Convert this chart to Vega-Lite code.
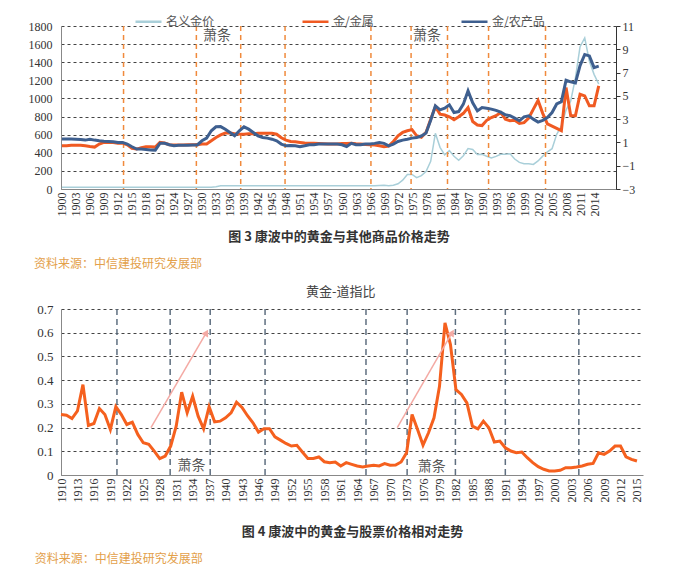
{
  "$schema": "https://vega.github.io/schema/vega-lite/v6.json",
  "padding": {"left": 28, "top": 7, "right": 5, "bottom": 0},
  "columns": 1,
  "align": "none",
  "spacing": 16,
  "config": {
    "view": {"stroke": null},
    "axis": {"labelFont": "Liberation Serif", "labelColor": "#333"}
  },
  "concat": [
    {
      "width": 555,
      "height": 163,
      "data": {"values": [
        {"year":1900,"nominal":20.7,"metal":0.71,"agri":1.30},
        {"year":1901,"nominal":20.7,"metal":0.71,"agri":1.30},
        {"year":1902,"nominal":20.7,"metal":0.75,"agri":1.30},
        {"year":1903,"nominal":20.7,"metal":0.75,"agri":1.28},
        {"year":1904,"nominal":20.7,"metal":0.75,"agri":1.25},
        {"year":1905,"nominal":20.7,"metal":0.71,"agri":1.20},
        {"year":1906,"nominal":20.7,"metal":0.65,"agri":1.28},
        {"year":1907,"nominal":20.7,"metal":0.60,"agri":1.20},
        {"year":1908,"nominal":20.7,"metal":0.86,"agri":1.14},
        {"year":1909,"nominal":20.7,"metal":1.00,"agri":1.10},
        {"year":1910,"nominal":20.7,"metal":1.00,"agri":1.08},
        {"year":1911,"nominal":20.7,"metal":1.00,"agri":1.05},
        {"year":1912,"nominal":20.7,"metal":0.92,"agri":1.00},
        {"year":1913,"nominal":20.7,"metal":0.95,"agri":1.00},
        {"year":1914,"nominal":20.7,"metal":0.80,"agri":0.86},
        {"year":1915,"nominal":20.7,"metal":0.50,"agri":0.63},
        {"year":1916,"nominal":20.7,"metal":0.43,"agri":0.43},
        {"year":1917,"nominal":20.7,"metal":0.55,"agri":0.43},
        {"year":1918,"nominal":20.7,"metal":0.63,"agri":0.40},
        {"year":1919,"nominal":20.7,"metal":0.63,"agri":0.36},
        {"year":1920,"nominal":20.7,"metal":0.60,"agri":0.34},
        {"year":1921,"nominal":20.7,"metal":1.00,"agri":0.92},
        {"year":1922,"nominal":20.7,"metal":0.95,"agri":0.92},
        {"year":1923,"nominal":20.7,"metal":0.80,"agri":0.80},
        {"year":1924,"nominal":20.7,"metal":0.77,"agri":0.71},
        {"year":1925,"nominal":20.7,"metal":0.77,"agri":0.75},
        {"year":1926,"nominal":20.7,"metal":0.77,"agri":0.75},
        {"year":1927,"nominal":20.7,"metal":0.80,"agri":0.75},
        {"year":1928,"nominal":20.7,"metal":0.80,"agri":0.78},
        {"year":1929,"nominal":20.7,"metal":0.80,"agri":0.78},
        {"year":1930,"nominal":20.7,"metal":0.86,"agri":1.14},
        {"year":1931,"nominal":20.7,"metal":0.86,"agri":1.37},
        {"year":1932,"nominal":20.7,"metal":1.14,"agri":2.00},
        {"year":1933,"nominal":26,"metal":1.43,"agri":2.34},
        {"year":1934,"nominal":35,"metal":1.65,"agri":2.36},
        {"year":1935,"nominal":35,"metal":1.80,"agri":2.14},
        {"year":1936,"nominal":35,"metal":1.80,"agri":1.86},
        {"year":1937,"nominal":35,"metal":1.75,"agri":1.57},
        {"year":1938,"nominal":35,"metal":1.72,"agri":2.00},
        {"year":1939,"nominal":35,"metal":1.71,"agri":2.34},
        {"year":1940,"nominal":35,"metal":1.75,"agri":2.14},
        {"year":1941,"nominal":35,"metal":1.75,"agri":1.86},
        {"year":1942,"nominal":35,"metal":1.78,"agri":1.57},
        {"year":1943,"nominal":35,"metal":1.78,"agri":1.43},
        {"year":1944,"nominal":35,"metal":1.78,"agri":1.37},
        {"year":1945,"nominal":35,"metal":1.78,"agri":1.28},
        {"year":1946,"nominal":35,"metal":1.70,"agri":1.14},
        {"year":1947,"nominal":35,"metal":1.40,"agri":0.86},
        {"year":1948,"nominal":35,"metal":1.20,"agri":0.71},
        {"year":1949,"nominal":35,"metal":1.08,"agri":0.73},
        {"year":1950,"nominal":35,"metal":1.05,"agri":0.71},
        {"year":1951,"nominal":35,"metal":1.00,"agri":0.63},
        {"year":1952,"nominal":35,"metal":0.95,"agri":0.71},
        {"year":1953,"nominal":35,"metal":0.92,"agri":0.80},
        {"year":1954,"nominal":35,"metal":0.92,"agri":0.80},
        {"year":1955,"nominal":35,"metal":0.90,"agri":0.86},
        {"year":1956,"nominal":35,"metal":0.88,"agri":0.86},
        {"year":1957,"nominal":35,"metal":0.86,"agri":0.86},
        {"year":1958,"nominal":35,"metal":0.86,"agri":0.86},
        {"year":1959,"nominal":35,"metal":0.86,"agri":0.86},
        {"year":1960,"nominal":35,"metal":0.90,"agri":0.80},
        {"year":1961,"nominal":35,"metal":0.90,"agri":0.65},
        {"year":1962,"nominal":35,"metal":0.92,"agri":0.92},
        {"year":1963,"nominal":35,"metal":0.88,"agri":0.80},
        {"year":1964,"nominal":35,"metal":0.86,"agri":0.80},
        {"year":1965,"nominal":35,"metal":0.82,"agri":0.86},
        {"year":1966,"nominal":35,"metal":0.80,"agri":0.86},
        {"year":1967,"nominal":35,"metal":0.78,"agri":0.92},
        {"year":1968,"nominal":39,"metal":0.72,"agri":1.00},
        {"year":1969,"nominal":41,"metal":0.63,"agri":0.92},
        {"year":1970,"nominal":36,"metal":0.68,"agri":0.71},
        {"year":1971,"nominal":41,"metal":1.08,"agri":0.86},
        {"year":1972,"nominal":58,"metal":1.57,"agri":1.08},
        {"year":1973,"nominal":97,"metal":1.86,"agri":1.20},
        {"year":1974,"nominal":159,"metal":2.00,"agri":1.28},
        {"year":1975,"nominal":161,"metal":2.10,"agri":1.37},
        {"year":1976,"nominal":125,"metal":1.57,"agri":1.43},
        {"year":1977,"nominal":148,"metal":1.45,"agri":1.55},
        {"year":1978,"nominal":193,"metal":1.86,"agri":1.80},
        {"year":1979,"nominal":306,"metal":3.00,"agri":2.90},
        {"year":1980,"nominal":615,"metal":4.06,"agri":4.14},
        {"year":1981,"nominal":460,"metal":3.43,"agri":3.80},
        {"year":1982,"nominal":376,"metal":3.35,"agri":3.94},
        {"year":1983,"nominal":424,"metal":3.20,"agri":4.23},
        {"year":1984,"nominal":361,"metal":2.95,"agri":3.57},
        {"year":1985,"nominal":317,"metal":3.20,"agri":3.65},
        {"year":1986,"nominal":368,"metal":3.50,"agri":4.29},
        {"year":1987,"nominal":447,"metal":4.00,"agri":5.43},
        {"year":1988,"nominal":437,"metal":2.80,"agri":4.40},
        {"year":1989,"nominal":381,"metal":2.50,"agri":3.71},
        {"year":1990,"nominal":383,"metal":2.45,"agri":4.00},
        {"year":1991,"nominal":362,"metal":2.90,"agri":3.94},
        {"year":1992,"nominal":344,"metal":3.14,"agri":3.86},
        {"year":1993,"nominal":360,"metal":3.30,"agri":3.75},
        {"year":1994,"nominal":384,"metal":3.57,"agri":3.60},
        {"year":1995,"nominal":384,"metal":3.00,"agri":3.37},
        {"year":1996,"nominal":388,"metal":2.86,"agri":3.29},
        {"year":1997,"nominal":331,"metal":2.91,"agri":3.09},
        {"year":1998,"nominal":294,"metal":2.63,"agri":2.86},
        {"year":1999,"nominal":279,"metal":2.70,"agri":3.20},
        {"year":2000,"nominal":279,"metal":3.10,"agri":3.29},
        {"year":2001,"nominal":271,"metal":3.86,"agri":3.00},
        {"year":2002,"nominal":310,"metal":4.60,"agri":2.75},
        {"year":2003,"nominal":363,"metal":3.50,"agri":2.90},
        {"year":2004,"nominal":409,"metal":2.60,"agri":3.14},
        {"year":2005,"nominal":445,"metal":2.40,"agri":3.57},
        {"year":2006,"nominal":604,"metal":2.20,"agri":4.30},
        {"year":2007,"nominal":696,"metal":2.00,"agri":4.50},
        {"year":2008,"nominal":872,"metal":5.71,"agri":6.34},
        {"year":2009,"nominal":972,"metal":3.29,"agri":6.20},
        {"year":2010,"nominal":1225,"metal":3.29,"agri":6.10},
        {"year":2011,"nominal":1572,"metal":5.14,"agri":7.60},
        {"year":2012,"nominal":1669,"metal":5.00,"agri":8.55},
        {"year":2013,"nominal":1411,"metal":4.14,"agri":8.43},
        {"year":2014,"nominal":1266,"metal":4.14,"agri":7.43},
        {"year":2015,"nominal":1160,"metal":5.86,"agri":7.55}
      ]},
      "title": {"text": "资料来源：中信建投研究发展部", "orient": "bottom", "anchor": "start", "offset": 16, "dx": 6, "font": "Noto Sans CJK SC", "fontSize": 12, "fontWeight": "normal", "color": "#e3a04a"},
      "layer": [
        {
          "layer": [
            {
              "mark": {"type": "line", "strokeWidth": 1.5},
              "encoding": {
                "x": {"field": "year", "type": "quantitative",
                  "scale": {"domain": [1899.8, 2018.7], "nice": false, "zero": false},
                  "axis": {"values": [1900,1903,1906,1909,1912,1915,1918,1921,1924,1927,1930,1933,1936,1939,1942,1945,1948,1951,1954,1957,1960,1963,1966,1969,1972,1975,1978,1981,1984,1987,1990,1993,1996,1999,2002,2005,2008,2011,2014],
                    "tickCount": 500, "format": "d", "labelAngle": -90, "labelFontSize": 12, "labelPadding": 3, "labelOverlap": false, "grid": false, "ticks": false, "domainColor": "#888",
                    "title": "图 3   康波中的黄金与其他商品价格走势", "titleFont": "Noto Sans CJK SC", "titleFontSize": 13, "titleFontWeight": "bold", "titleColor": "#333", "titlePadding": 14}},
                "y": {"field": "nominal", "type": "quantitative",
                  "scale": {"domain": [0, 1800], "nice": false},
                  "axis": {"values": [0,200,400,600,800,1000,1200,1400,1600,1800], "tickCount": 500, "format": "d", "labelOverlap": false, "grid": true, "gridDash": [3,3], "gridColor": "#444", "ticks": false, "domainColor": "#888", "labelFontSize": 12, "labelPadding": 9, "title": null}},
                "color": {"datum": "名义金价", "type": "nominal",
                  "scale": {"domain": ["名义金价", "金/金属", "金/农产品"], "range": ["#a9cfd9", "#f05a22", "#3e5f8f"]},
                  "legend": {"orient": "none", "legendX": 73, "legendY": -19, "direction": "horizontal", "columnPadding": 82, "symbolType": "stroke", "symbolSize": 676, "symbolStrokeWidth": 2.5, "labelFont": "Noto Sans CJK SC", "labelFontSize": 12, "labelColor": "#555", "labelOffset": 3, "title": null}}
              }
            },
            {
              "data": {"values": [{"year":1913.2},{"year":1928.8},{"year":1938.3},{"year":1947.8},{"year":1966.2},{"year":1974.8},{"year":1982.6},{"year":1991.4},{"year":2003.6}]},
              "mark": {"type": "rule", "color": "#f08a3c", "strokeDash": [5,4], "strokeWidth": 1.5},
              "encoding": {"x": {"field": "year", "type": "quantitative"}}
            },
            {
              "data": {"values": [{"year":1933.2,"nominal":1690,"t":"萧条"},{"year":1978.2,"nominal":1690,"t":"萧条"}]},
              "mark": {"type": "text", "font": "Noto Sans CJK SC", "fontSize": 14, "color": "#555"},
              "encoding": {"x": {"field": "year", "type": "quantitative"}, "y": {"field": "nominal", "type": "quantitative"}, "text": {"field": "t"}}
            }
          ]
        },
        {
          "layer": [
            {
              "mark": {"type": "line", "strokeWidth": 3},
              "encoding": {
                "x": {"field": "year", "type": "quantitative"},
                "y": {"field": "metal", "type": "quantitative",
                  "scale": {"domain": [-3, 11], "nice": false, "zero": false},
                  "axis": {"orient": "right", "values": [-3,-1,1,3,5,7,9,11], "tickCount": 500, "format": "d", "labelOverlap": false, "grid": false, "ticks": true, "tickSize": 4, "tickColor": "#333", "domainColor": "#333", "labelFontSize": 12, "labelPadding": 2, "title": null}},
                "color": {"datum": "金/金属", "type": "nominal"}
              }
            },
            {
              "mark": {"type": "line", "strokeWidth": 3},
              "encoding": {
                "x": {"field": "year", "type": "quantitative"},
                "y": {"field": "agri", "type": "quantitative"},
                "color": {"datum": "金/农产品", "type": "nominal"}
              }
            }
          ]
        }
      ],
      "resolve": {"scale": {"y": "independent"}}
    },
    {
      "width": 582,
      "height": 166,
      "title": {"text": "资料来源：中信建投研究发展部", "orient": "bottom", "anchor": "start", "offset": 16, "dx": -2, "font": "Noto Sans CJK SC", "fontSize": 12, "fontWeight": "normal", "color": "#e3a04a"},
      "layer": [
        {
          "data": {"values": [{"year":1920.2},{"year":1929.9},{"year":1937.2},{"year":1947.2},{"year":1965.6},{"year":1973.1},{"year":1981.9},{"year":1991.0},{"year":2004.4}]},
          "mark": {"type": "rule", "color": "#5f6f80", "strokeDash": [6,4], "strokeWidth": 1.5},
          "encoding": {"x": {"field": "year", "type": "quantitative"}}
        },
        {
          "data": {"values": [
            {"year":1910,"v":0.255},{"year":1911,"v":0.252},{"year":1912,"v":0.238},{"year":1913,"v":0.27},{"year":1914,"v":0.381},
            {"year":1915,"v":0.209},{"year":1916,"v":0.217},{"year":1917,"v":0.28},{"year":1918,"v":0.255},{"year":1919,"v":0.192},
            {"year":1920,"v":0.288},{"year":1921,"v":0.255},{"year":1922,"v":0.213},{"year":1923,"v":0.223},{"year":1924,"v":0.171},
            {"year":1925,"v":0.136},{"year":1926,"v":0.129},{"year":1927,"v":0.101},{"year":1928,"v":0.069},{"year":1929,"v":0.08},
            {"year":1930,"v":0.122},{"year":1931,"v":0.206},{"year":1932,"v":0.349},{"year":1933,"v":0.262},{"year":1934,"v":0.332},
            {"year":1935,"v":0.248},{"year":1936,"v":0.195},{"year":1937,"v":0.288},{"year":1938,"v":0.224},{"year":1939,"v":0.227},
            {"year":1940,"v":0.241},{"year":1941,"v":0.262},{"year":1942,"v":0.307},{"year":1943,"v":0.285},{"year":1944,"v":0.25},
            {"year":1945,"v":0.22},{"year":1946,"v":0.181},{"year":1947,"v":0.195},{"year":1948,"v":0.195},{"year":1949,"v":0.161},
            {"year":1950,"v":0.147},{"year":1951,"v":0.133},{"year":1952,"v":0.122},{"year":1953,"v":0.125},{"year":1954,"v":0.097},
            {"year":1955,"v":0.07},{"year":1956,"v":0.07},{"year":1957,"v":0.076},{"year":1958,"v":0.056},{"year":1959,"v":0.052},
            {"year":1960,"v":0.055},{"year":1961,"v":0.038},{"year":1962,"v":0.052},{"year":1963,"v":0.045},{"year":1964,"v":0.038},
            {"year":1965,"v":0.034},{"year":1966,"v":0.038},{"year":1967,"v":0.041},{"year":1968,"v":0.038},{"year":1969,"v":0.048},
            {"year":1970,"v":0.041},{"year":1971,"v":0.042},{"year":1972,"v":0.055},{"year":1973,"v":0.094},{"year":1974,"v":0.255},
            {"year":1975,"v":0.192},{"year":1976,"v":0.126},{"year":1977,"v":0.178},{"year":1978,"v":0.241},{"year":1979,"v":0.374},
            {"year":1980,"v":0.641},{"year":1981,"v":0.55},{"year":1982,"v":0.36},{"year":1983,"v":0.34},{"year":1984,"v":0.304},
            {"year":1985,"v":0.206},{"year":1986,"v":0.195},{"year":1987,"v":0.227},{"year":1988,"v":0.199},{"year":1989,"v":0.139},
            {"year":1990,"v":0.143},{"year":1991,"v":0.115},{"year":1992,"v":0.101},{"year":1993,"v":0.094},{"year":1994,"v":0.097},
            {"year":1995,"v":0.073},{"year":1996,"v":0.052},{"year":1997,"v":0.035},{"year":1998,"v":0.024},{"year":1999,"v":0.017},
            {"year":2000,"v":0.017},{"year":2001,"v":0.02},{"year":2002,"v":0.031},{"year":2003,"v":0.031},{"year":2004,"v":0.034},
            {"year":2005,"v":0.038},{"year":2006,"v":0.045},{"year":2007,"v":0.049},{"year":2008,"v":0.094},{"year":2009,"v":0.087},
            {"year":2010,"v":0.101},{"year":2011,"v":0.122},{"year":2012,"v":0.122},{"year":2013,"v":0.077},{"year":2014,"v":0.066},
            {"year":2015,"v":0.059}
          ]},
          "mark": {"type": "line", "color": "#f5601e", "strokeWidth": 3},
          "encoding": {
            "x": {"field": "year", "type": "quantitative",
              "scale": {"domain": [1910, 2016.1], "nice": false, "zero": false},
              "axis": {"values": [1910,1913,1916,1919,1922,1925,1928,1931,1934,1937,1940,1943,1946,1949,1952,1955,1958,1961,1964,1967,1970,1973,1976,1979,1982,1985,1988,1991,1994,1997,2000,2003,2006,2009,2012,2015],
                "tickCount": 500, "format": "d", "labelAngle": -90, "labelFontSize": 12, "labelPadding": 3, "labelOverlap": false, "grid": false, "ticks": false, "domainColor": "#888",
                "title": "图 4   康波中的黄金与股票价格相对走势", "titleFont": "Noto Sans CJK SC", "titleFontSize": 13, "titleFontWeight": "bold", "titleColor": "#333", "titlePadding": 23}},
            "y": {"field": "v", "type": "quantitative",
              "scale": {"domain": [0, 0.7], "nice": false},
              "axis": {"values": [0,0.1,0.2,0.3,0.4,0.5,0.6,0.7], "tickCount": 500, "labelOverlap": false, "format": ".1~f", "grid": true, "gridDash": [3,3], "gridColor": "#444", "ticks": false, "domainColor": "#888", "labelFontSize": 13, "labelPadding": 8, "title": null}}
          }
        },
        {
          "data": {"values": [{"year":1926.4,"v":0.2,"year2":1936.5,"v2":0.6},{"year":1971.3,"v":0.2,"year2":1981.3,"v2":0.6}]},
          "mark": {"type": "rule", "color": "#f4aaa4", "strokeWidth": 1.5},
          "encoding": {"x": {"field": "year", "type": "quantitative"}, "y": {"field": "v", "type": "quantitative"}, "x2": {"field": "year2"}, "y2": {"field": "v2"}}
        },
        {
          "data": {"values": [{"year":1936.5,"v":0.6},{"year":1981.3,"v":0.6}]},
          "mark": {"type": "point", "shape": "triangle-up", "filled": true, "size": 60, "angle": 30, "color": "#f4aaa4", "opacity": 1},
          "encoding": {"x": {"field": "year", "type": "quantitative"}, "y": {"field": "v", "type": "quantitative"}}
        },
        {
          "data": {"values": [{"year":1933.8,"v":0.038,"t":"萧条"},{"year":1977.6,"v":0.032,"t":"萧条"}]},
          "mark": {"type": "text", "font": "Noto Sans CJK SC", "fontSize": 14, "color": "#555"},
          "encoding": {"x": {"field": "year", "type": "quantitative"}, "y": {"field": "v", "type": "quantitative"}, "text": {"field": "t"}}
        },
        {
          "data": {"values": [{"year":1961,"v":0.77,"t":"黄金-道指比"}]},
          "mark": {"type": "text", "font": "Noto Sans CJK SC", "fontSize": 13, "color": "#444"},
          "encoding": {"x": {"field": "year", "type": "quantitative"}, "y": {"field": "v", "type": "quantitative"}, "text": {"field": "t"}}
        }
      ]
    }
  ]
}
